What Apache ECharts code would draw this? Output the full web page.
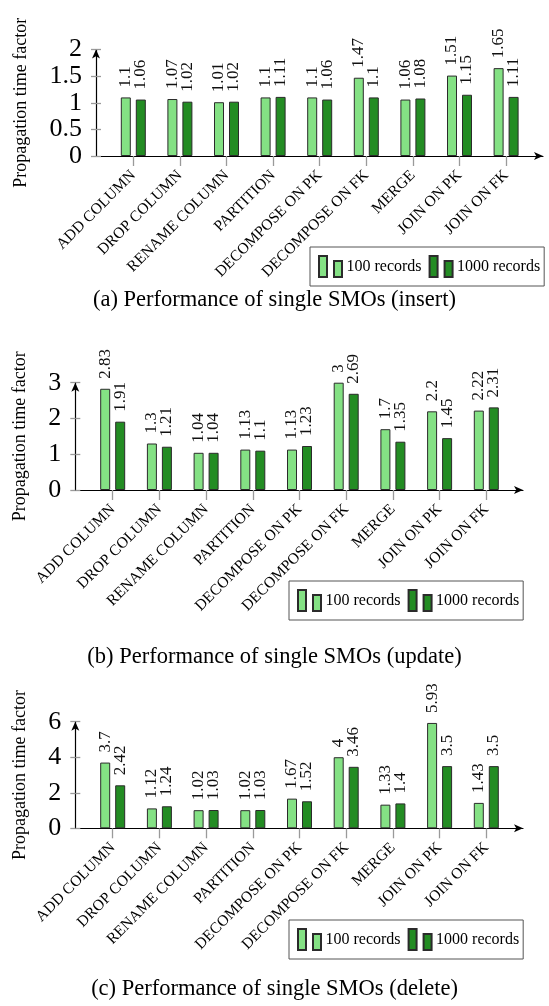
<!DOCTYPE html>
<html>
<head>
<meta charset="utf-8">
<script src="https://cdn.jsdelivr.net/npm/echarts@6/dist/echarts.min.js"></script>
<style>
  html, body { margin: 0; padding: 0; background: #fff; }
  #chart { width: 549px; height: 1006px; }
</style>
</head>
<body>
<div id="chart"></div>
<script>
// SMO categories and propagation time factors
const categories = ['ADD COLUMN', 'DROP COLUMN', 'RENAME COLUMN', 'PARTITION',
  'DECOMPOSE ON PK', 'DECOMPOSE ON FK', 'MERGE', 'JOIN ON PK', 'JOIN ON FK'];
const seriesNames = ['100 records', '1000 records'];

const insert100  = [1.1, 1.07, 1.01, 1.1, 1.1, 1.47, 1.06, 1.51, 1.65];
const insert1000 = [1.06, 1.02, 1.02, 1.11, 1.06, 1.1, 1.08, 1.15, 1.11];
const update100  = [2.83, 1.3, 1.04, 1.13, 1.13, 3, 1.7, 2.2, 2.22];
const update1000 = [1.91, 1.21, 1.04, 1.1, 1.23, 2.69, 1.35, 1.45, 2.31];
const delete100  = [3.7, 1.12, 1.02, 1.02, 1.67, 4, 1.33, 5.93, 1.43];
const delete1000 = [2.42, 1.24, 1.03, 1.03, 1.52, 3.46, 1.4, 3.5, 3.5];

const titles = [
  '(a) Performance of single SMOs (insert)',
  '(b) Performance of single SMOs (update)',
  '(c) Performance of single SMOs (delete)'
];
const yMax = [2, 3, 6];
const yStep = [0.5, 1, 2];

const SERIF = "'Liberation Serif', 'Times New Roman', serif";
const LIGHT = '#84e184';
const DARK = '#238c23';
const EDGE = '#2b2b2b';

// panel layout (pixels)
const panels = [
  { axisLeft: 96, axisRight: 543, top: 49.5, bottom: 156, center0: 133.3, step: 46.6,
    legend: { left: 310, top: 247 }, titleTop: 284, nameGap: 66 },
  { axisLeft: 75.3, axisRight: 523, top: 382.7, bottom: 490, center0: 112.7, step: 46.7,
    legend: { left: 289, top: 581 }, titleTop: 641, nameGap: 46 },
  { axisLeft: 75.3, axisRight: 523, top: 721.7, bottom: 828.3, center0: 112.7, step: 46.7,
    legend: { left: 289, top: 920 }, titleTop: 973, nameGap: 46 }
];
const values = [[insert100, insert1000], [update100, update1000], [delete100, delete1000]];

const grid = [], xAxis = [], yAxis = [], series = [], legend = [], title = [];

panels.forEach((p, i) => {
  const h = p.bottom - p.top;
  // frame grid: carries the arrowed axis lines and y ticks
  grid.push({ left: p.axisLeft, top: p.top, width: p.axisRight - p.axisLeft, height: h });
  // bar grid: category bands
  const barsLeft = p.center0 - p.step / 2;
  grid.push({ left: barsLeft, top: p.top, width: p.step * categories.length, height: h });

  xAxis.push({
    type: 'value', gridIndex: 2 * i, min: 0, max: 1,
    axisLine: { show: true, lineStyle: { color: '#000', width: 1.2 },
      symbol: ['none', 'arrow'], symbolSize: [6, 9] },
    axisTick: { show: false }, axisLabel: { show: false }, splitLine: { show: false }
  });
  xAxis.push({
    type: 'category', gridIndex: 2 * i + 1, data: categories,
    axisLine: { show: false },
    axisTick: { show: true, alignWithLabel: true, length: 10,
      lineStyle: { color: '#9a9a9a', width: 1.3 } },
    axisLabel: { interval: 0, rotate: 45, margin: 17, fontFamily: SERIF, fontSize: 15.5, color: '#000' },
    splitLine: { show: false }
  });

  yAxis.push({
    type: 'value', gridIndex: 2 * i, min: 0, max: yMax[i], interval: yStep[i],
    name: 'Propagation time factor', nameLocation: 'middle', nameGap: p.nameGap,
    nameTextStyle: { fontFamily: SERIF, fontSize: 18, color: '#000' },
    axisLine: { show: true, lineStyle: { color: '#000', width: 1.2 },
      symbol: ['none', 'arrow'], symbolSize: [6, 9] },
    axisTick: { show: true, length: 5, lineStyle: { color: '#9a9a9a', width: 1.3 } },
    axisLabel: { margin: 14, fontFamily: SERIF, fontSize: 26, color: '#000' },
    splitLine: { show: false }
  });
  yAxis.push({
    type: 'value', gridIndex: 2 * i, min: 0, max: yMax[i], interval: yStep[i], position: 'left',
    axisLine: { show: false },
    axisTick: { show: true, inside: true, length: 5, lineStyle: { color: '#9a9a9a', width: 1.3 } },
    axisLabel: { show: false }, splitLine: { show: false }
  });
  yAxis.push({
    type: 'value', gridIndex: 2 * i + 1, min: 0, max: yMax[i], interval: yStep[i], show: false
  });

  values[i].forEach((vals, k) => {
    series.push({
      type: 'bar', name: seriesNames[k],
      xAxisIndex: 2 * i + 1, yAxisIndex: 3 * i + 2,
      data: vals, barWidth: 10, barGap: '50%',
      itemStyle: { color: k === 0 ? LIGHT : DARK, borderColor: EDGE, borderWidth: 1 },
      label: {
        show: true, position: 'top', rotate: 90, align: 'left', verticalAlign: 'middle',
        distance: 10, fontFamily: SERIF, fontSize: 17, color: '#111'
      }
    });
  });

  legend.push({
    left: p.legend.left, top: p.legend.top, orient: 'horizontal',
    data: seriesNames,
    icon: 'path://M0,0H8V21H0Z M15,5H23V21H15Z',
    itemWidth: 24, itemHeight: 21, itemGap: 7,
    textStyle: { fontFamily: SERIF, fontSize: 16, color: '#000', padding: [0, 0, 0, -1] },
    borderColor: '#555', borderWidth: 1, padding: [8, 4, 8, 8],
    backgroundColor: '#fff', selectedMode: false
  });

  title.push({
    text: titles[i], left: 'center', top: p.titleTop,
    textStyle: { fontFamily: SERIF, fontSize: 22.5, fontWeight: 'normal', color: '#000' }
  });
});

const chart = echarts.init(document.getElementById('chart'), null, { renderer: 'canvas' });
chart.setOption({
  animation: false,
  backgroundColor: '#fff',
  title, grid, xAxis, yAxis, series, legend
});
</script>
</body>
</html>
